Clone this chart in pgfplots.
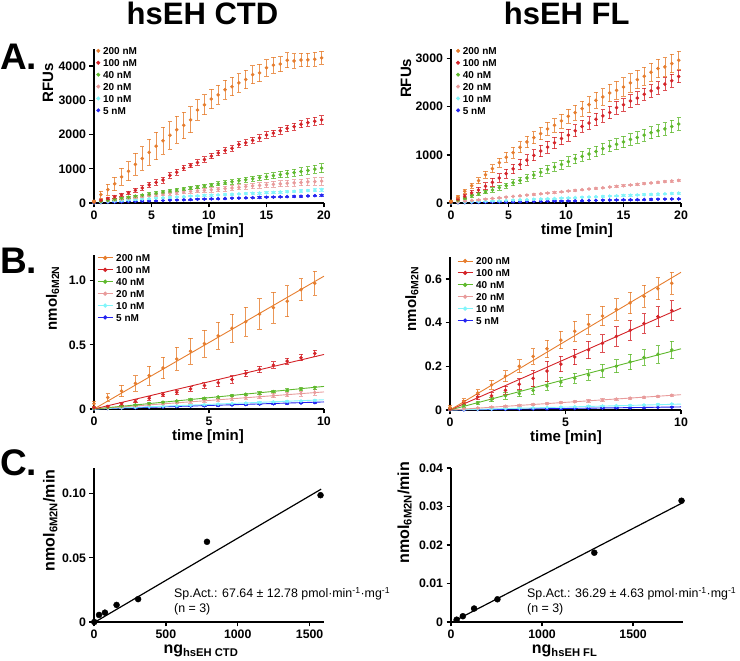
\documentclass[border=0pt]{standalone}
\usepackage{fontspec}
\setmainfont{Liberation Sans}
\usepackage{pgfplots}
\usepackage{pgfplotstable}
\pgfplotsset{compat=1.18}

\definecolor{cO}{RGB}{230,125,45}
\definecolor{cR}{RGB}{212,35,40}
\definecolor{cG}{RGB}{95,185,45}
\definecolor{cP}{RGB}{232,155,155}
\definecolor{cC}{RGB}{130,245,250}
\definecolor{cB}{RGB}{35,35,240}

\newcommand{\tickfont}{\bfseries\fontsize{12.3}{13}\selectfont}
\newcommand{\labfont}{\bfseries\fontsize{15}{16}\selectfont}
\newcommand{\labfontC}{\bfseries\fontsize{16}{17}\selectfont}
\newcommand{\legfont}{\bfseries\fontsize{10}{11}\selectfont}

% A: RFUs, CTD
\pgfplotstableread{
t    o     oe   r     re   g    ge   p    pe   c    ce  b    be
0    50    40   30    20   20   10   15   8    10   5   5    5
0.6  245   100  80    30   50   15   40   10   25   6   12   5
1.2  390   160  130   35   80   20   65   12   40   8   20   6
1.8  560   200  180   40   110  20   90   15   55   8   27   6
2.4  765   250  240   45   140  25   115  18   70   10  34   7
3.0  930   280  300   50   170  25   140  20   85   10  41   7
3.6  1127  320  370   55   200  30   165  25   100  12  48   8
4.2  1300  350  440   60   230  30   190  28   115  12  55   8
4.8  1480  380  530   70   260  35   215  32   128  14  62   9
5.4  1660  400  600   80   290  35   240  35   140  14  69   9
6.0  1820  400  670   90   320  40   260  40   152  16  76   10
6.6  1980  400  810   80   350  40   280  45   164  16  83   10
7.2  2140  400  900   80   380  45   300  48   176  18  90   11
7.8  2270  390  1020  80   410  45   320  52   188  18  96   11
8.4  2430  380  1100  70   440  50   340  55   199  20  102  12
9.0  2720  300  1180  80   470  50   355  58   210  20  108  12
9.6  2870  290  1270  80   500  55   370  60   220  22  114  13
10.2 3040  280  1370  80   530  55   385  62   229  22  120  13
10.8 3160  280  1460  80   560  60   400  65   238  24  126  14
11.4 3310  280  1540  80   590  60   420  68   247  24  132  14
12.0 3400  270  1600  80   620  65   440  70   256  26  138  15
12.6 3510  270  1710  80   650  65   460  72   265  26  144  15
13.2 3610  270  1760  90   680  70   480  75   274  28  150  16
13.8 3750  260  1830  90   710  70   500  78   283  28  156  16
14.4 3800  250  1900  90   740  80   515  80   292  30  162  17
15.0 3950  240  1990  90   770  85   530  82   301  30  168  17
15.6 4030  230  2040  90   800  90   545  85   310  32  174  18
16.2 4060  220  2110  100  830  95   560  88   320  32  180  18
16.8 4170  220  2180  100  860  100  575  90   330  34  186  19
17.4 4150  210  2230  100  890  105  590  95   340  34  192  19
18.0 4180  200  2300  100  920  110  600  100  350  36  198  20
18.6 4180  200  2350  110  950  115  615  105  362  36  205  20
19.2 4200  200  2390  120  990  120  625  110  376  38  215  21
19.8 4240  190  2430  120  1020 130  640  115  392  40  228  22
}\AL

% A: RFUs, FL
\pgfplotstableread{
t    o     oe   r     re   g     ge   p    pe  c    ce  b   be
0    35    20   20    15   10    10   10   5   5    3   2   2
0.6  125   30   80    30   60    20   24   5   11   3   5   2
1.2  243   40   140   40   100   25   38   6   17   4   7   2
1.8  360   55   210   50   150   30   52   6   23   4   10  3
2.4  464   65   270   60   190   35   66   7   29   5   12  3
3.0  589   75   350   70   230   40   80   7   35   5   15  3
3.6  714   85   430   80   270   45   94   8   41   6   17  4
4.2  838   95   520   90   320   50   108  8   47   6   20  4
4.8  950   105  610   95   360   55   122  9   53   7   22  4
5.4  1046  110  710   100  420   60   136  9   59   7   25  5
6.0  1157  115  800   105  470   65   150  10  65   8   27  5
6.6  1268  120  890   110  520   70   164  10  71   8   30  5
7.2  1358  125  990   115  580   75   178  11  77   9   32  6
7.8  1441  130  1080  115  640   80   192  11  83   9   35  6
8.4  1538  135  1160  120  700   85   206  12  89   10  37  6
9.0  1615  140  1250  120  750   90   220  12  95   10  40  7
9.6  1705  145  1340  125  800   95   234  13  101  11  42  7
10.2 1802  150  1410  125  860   100  248  13  107  11  45  7
10.8 1878  155  1500  125  920   100  262  14  113  12  47  8
11.4 1961  160  1590  125  970   105  276  14  119  12  50  8
12.0 2044  165  1660  130  1020  105  290  15  125  13  52  8
12.6 2134  170  1740  130  1070  110  304  15  131  13  55  9
13.2 2204  175  1810  130  1130  110  318  16  137  14  57  9
13.8 2287  180  1880  130  1180  115  332  16  143  14  60  9
14.4 2342  185  1980  130  1220  115  346  17  149  15  62  10
15.0 2412  190  2040  130  1270  120  360  17  155  15  65  10
15.6 2495  190  2120  130  1320  120  374  18  161  16  67  10
16.2 2564  190  2180  130  1360  120  388  18  167  16  70  11
16.8 2633  190  2260  130  1410  125  402  19  173  17  72  11
17.4 2717  190  2330  130  1460  125  416  19  179  17  75  11
18.0 2793  190  2390  130  1500  125  430  20  185  18  77  12
18.6 2827  190  2470  130  1540  130  444  20  191  18  80  12
19.2 2897  190  2540  130  1590  130  458  21  197  19  82  12
19.8 2966  190  2630  130  1640  130  470  21  205  19  85  13
}\AR

% B: nmol 6M2N, CTD
\pgfplotstableread{
t    o     oe    r     re    g     ge    p     pe    c     ce    b     be
0    0.040 0.020 0.010 0.008 0.005 0.004 0.004 0.003 0.002 0.002 0.002 0.002
0.6  0.090 0.030 0.020 0.008 0.012 0.004 0.009 0.004 0.005 0.002 0.004 0.002
1.2  0.140 0.045 0.040 0.010 0.022 0.005 0.017 0.005 0.009 0.002 0.007 0.002
1.8  0.200 0.060 0.060 0.012 0.032 0.005 0.025 0.006 0.013 0.003 0.010 0.002
2.4  0.260 0.075 0.084 0.014 0.042 0.006 0.033 0.007 0.017 0.003 0.013 0.003
3.0  0.320 0.085 0.112 0.016 0.052 0.006 0.041 0.008 0.021 0.003 0.016 0.003
3.6  0.390 0.090 0.130 0.018 0.062 0.007 0.049 0.009 0.025 0.004 0.019 0.003
4.2  0.450 0.100 0.157 0.020 0.073 0.007 0.057 0.010 0.029 0.004 0.022 0.003
4.8  0.510 0.105 0.183 0.022 0.083 0.008 0.065 0.011 0.034 0.004 0.025 0.004
5.4  0.570 0.105 0.204 0.030 0.094 0.008 0.073 0.012 0.038 0.005 0.028 0.004
6.0  0.630 0.110 0.230 0.030 0.104 0.009 0.081 0.014 0.042 0.005 0.032 0.004
6.6  0.680 0.115 0.277 0.025 0.115 0.009 0.089 0.015 0.046 0.005 0.035 0.004
7.2  0.740 0.120 0.308 0.025 0.125 0.010 0.097 0.016 0.050 0.006 0.038 0.005
7.8  0.790 0.120 0.342 0.025 0.136 0.010 0.105 0.017 0.055 0.006 0.041 0.005
8.4  0.840 0.120 0.373 0.025 0.146 0.011 0.113 0.018 0.059 0.006 0.044 0.005
9.0  0.930 0.085 0.400 0.025 0.156 0.011 0.121 0.019 0.063 0.007 0.047 0.005
9.6  0.980 0.095 0.433 0.025 0.167 0.012 0.129 0.020 0.067 0.007 0.050 0.005
}\BL

% B: nmol 6M2N, FL
\pgfplotstableread{
t    o     oe    r     re    g     ge    p     pe    c     ce    b     be
0    0.012 0.008 0.005 0.005 0.005 0.004 0.002 0.002 0.001 0.001 0.001 0.001
0.6  0.040 0.012 0.035 0.010 0.020 0.006 0.005 0.002 0.002 0.001 0.001 0.001
1.2  0.078 0.015 0.060 0.012 0.032 0.008 0.009 0.002 0.004 0.001 0.002 0.001
1.8  0.115 0.020 0.065 0.015 0.048 0.010 0.013 0.002 0.005 0.001 0.003 0.001
2.4  0.155 0.025 0.090 0.020 0.065 0.015 0.017 0.003 0.007 0.001 0.003 0.001
3.0  0.200 0.030 0.118 0.025 0.075 0.015 0.021 0.003 0.009 0.001 0.004 0.001
3.6  0.245 0.035 0.145 0.035 0.090 0.018 0.025 0.003 0.010 0.002 0.005 0.001
4.2  0.280 0.040 0.178 0.045 0.110 0.020 0.029 0.004 0.012 0.002 0.006 0.001
4.8  0.320 0.040 0.210 0.035 0.128 0.020 0.034 0.004 0.013 0.002 0.006 0.001
5.4  0.360 0.045 0.243 0.035 0.145 0.022 0.038 0.004 0.015 0.002 0.007 0.001
6.0  0.392 0.045 0.275 0.040 0.160 0.025 0.042 0.005 0.017 0.002 0.008 0.001
6.6  0.430 0.045 0.305 0.040 0.180 0.030 0.046 0.005 0.018 0.002 0.009 0.001
7.2  0.460 0.050 0.337 0.045 0.200 0.030 0.050 0.005 0.020 0.003 0.010 0.002
7.8  0.490 0.050 0.365 0.045 0.220 0.035 0.054 0.005 0.021 0.003 0.010 0.002
8.4  0.520 0.050 0.396 0.045 0.240 0.035 0.058 0.006 0.023 0.003 0.011 0.002
9.0  0.555 0.050 0.427 0.045 0.255 0.040 0.062 0.006 0.025 0.003 0.012 0.002
9.6  0.580 0.050 0.455 0.045 0.275 0.040 0.067 0.006 0.027 0.003 0.013 0.002
}\BR

\pgfplotsset{
  gp/.style={
    scale only axis, anchor=south west, clip=false,
    axis lines*=left, scaled ticks=false,
    axis line style={line width=1.6pt},
    every tick/.style={black, line width=1.3pt},
    tick align=outside, major tick length=4.5pt,
    ticklabel style={font=\tickfont},
    legend cell align=left,
    legend style={draw=none, fill=none, inner sep=0pt, font=\legfont,
      row sep=2.4pt, column sep=2pt,
      nodes={inner sep=1pt, text height=7.5pt, text depth=0pt}},
  },
  ylab/.style 2 args={every axis y label/.style={at={(axis description cs:#1,#2)},
    rotate=90, anchor=center, font=\labfont}},
  xlab/.style 2 args={every axis x label/.style={at={(axis description cs:#1,#2)},
    anchor=center, font=\labfont}},
  ylabC/.style 2 args={every axis y label/.style={at={(axis description cs:#1,#2)},
    rotate=90, anchor=center, font=\labfontC}},
  xlabC/.style 2 args={every axis x label/.style={at={(axis description cs:#1,#2)},
    anchor=center, font=\labfontC}},
  pts/.style={only marks, mark=*, mark size=1.6pt, forget plot,
    error bars/y dir=both, error bars/y explicit,
    error bars/error bar style={line width=0.8pt, opacity=0.8},
    error bars/error mark options={rotate=90, mark size=2.2pt, line width=0.8pt}},
  dotleg/.style={legend image code/.code={%
    \draw[mark repeat=2, mark phase=2, ##1] plot coordinates {(0pt,0pt) (4pt,0pt) (8pt,0pt)};}},
  lineleg/.style={legend image code/.code={%
    \draw[mark repeat=2, mark phase=2, ##1] plot coordinates {(0pt,0pt) (7.5pt,0pt) (15pt,0pt)};}},
  fit/.style={line width=0.9pt, forget plot},
}

\begin{document}
\begin{tikzpicture}[x=1pt,y=1pt]
\path[use as bounding box] (0,0) rectangle (740,661);

\node[font=\bfseries\fontsize{31}{31}\selectfont, anchor=base] at (202.5,636) {hsEH CTD};
\node[font=\bfseries\fontsize{31}{31}\selectfont, anchor=base] at (566.7,636) {hsEH FL};
\node[font=\bfseries\fontsize{37}{37}\selectfont, anchor=base west, inner sep=0pt] at (0,591) {A.};
\node[font=\bfseries\fontsize{37}{37}\selectfont, anchor=base west, inner sep=0pt] at (0,387) {B.};
\node[font=\bfseries\fontsize{37}{37}\selectfont, anchor=base west, inner sep=0pt] at (0,185) {C.};

% ---- A, CTD
\begin{axis}[gp, at={(94pt,458pt)}, width=230pt, height=154pt,
  xmin=0, xmax=20, ymin=0, ymax=4500,
  xtick={0,5,10,15,20}, xticklabels={0,5,10,15,20},
  ytick={0,1000,2000,3000,4000}, yticklabels={0,1000,2000,3000,4000},
  xlabel={time [min]}, ylabel={RFUs},
  xlab={0.496}{-0.18}, ylab={-0.2}{0.78},
  legend style={at={(axis description cs:0.01,1.02)}, anchor=north west},
  dotleg]
\addplot[cB, pts] table[x=t, y=b, y error=be] {\AL};
\addplot[cC, pts] table[x=t, y=c, y error=ce] {\AL};
\addplot[cP, pts] table[x=t, y=p, y error=pe] {\AL};
\addplot[cG, pts] table[x=t, y=g, y error=ge] {\AL};
\addplot[cR, pts] table[x=t, y=r, y error=re] {\AL};
\addplot[cO, pts] table[x=t, y=o, y error=oe] {\AL};
\addlegendimage{cO, only marks, mark=*, mark size=1.8pt}\addlegendentry{200 nM}
\addlegendimage{cR, only marks, mark=*, mark size=1.8pt}\addlegendentry{100 nM}
\addlegendimage{cG, only marks, mark=*, mark size=1.8pt}\addlegendentry{40 nM}
\addlegendimage{cP, only marks, mark=*, mark size=1.8pt}\addlegendentry{20 nM}
\addlegendimage{cC, only marks, mark=*, mark size=1.8pt}\addlegendentry{10 nM}
\addlegendimage{cB, only marks, mark=*, mark size=1.8pt}\addlegendentry{5 nM}
\end{axis}

% ---- A, FL
\begin{axis}[gp, at={(451pt,458pt)}, width=230pt, height=154pt,
  xmin=0, xmax=20, ymin=0, ymax=3200,
  xtick={0,5,10,15,20}, xticklabels={0,5,10,15,20},
  ytick={0,1000,2000,3000}, yticklabels={0,1000,2000,3000},
  xlabel={time [min]}, ylabel={RFUs},
  xlab={0.548}{-0.18}, ylab={-0.196}{0.81},
  legend style={at={(axis description cs:0.022,1.02)}, anchor=north west},
  dotleg]
\addplot[cB, pts] table[x=t, y=b, y error=be] {\AR};
\addplot[cC, pts] table[x=t, y=c, y error=ce] {\AR};
\addplot[cP, pts] table[x=t, y=p, y error=pe] {\AR};
\addplot[cG, pts] table[x=t, y=g, y error=ge] {\AR};
\addplot[cR, pts] table[x=t, y=r, y error=re] {\AR};
\addplot[cO, pts] table[x=t, y=o, y error=oe] {\AR};
\addlegendimage{cO, only marks, mark=*, mark size=1.8pt}\addlegendentry{200 nM}
\addlegendimage{cR, only marks, mark=*, mark size=1.8pt}\addlegendentry{100 nM}
\addlegendimage{cG, only marks, mark=*, mark size=1.8pt}\addlegendentry{40 nM}
\addlegendimage{cP, only marks, mark=*, mark size=1.8pt}\addlegendentry{20 nM}
\addlegendimage{cC, only marks, mark=*, mark size=1.8pt}\addlegendentry{10 nM}
\addlegendimage{cB, only marks, mark=*, mark size=1.8pt}\addlegendentry{5 nM}
\end{axis}

% ---- B, CTD
\begin{axis}[gp, at={(94pt,252pt)}, width=230pt, height=154pt,
  xmin=0, xmax=10, ymin=0, ymax=1.2,
  xtick={0,5,10}, xticklabels={0,5,10},
  ytick={0,0.5,1}, yticklabels={0,0.5,1.0},
  xlabel={time [min]}, ylabel={nmol\textsubscript{6M2N}},
  xlab={0.496}{-0.18}, ylab={-0.18}{0.72},
  legend style={at={(axis description cs:0.013,1.013)}, anchor=north west},
  lineleg]
\addplot[cB, fit] coordinates {(0,0) (10,0.055)};
\addplot[cC, fit] coordinates {(0,0) (10,0.072)};
\addplot[cP, fit] coordinates {(0,0) (10,0.133)};
\addplot[cG, fit] coordinates {(0,0) (10,0.176)};
\addplot[cR, fit] coordinates {(0,0) (10,0.425)};
\addplot[cO, fit] coordinates {(0,0) (10,1.035)};
\addplot[cB, pts] table[x=t, y=b, y error=be] {\BL};
\addplot[cC, pts] table[x=t, y=c, y error=ce] {\BL};
\addplot[cP, pts] table[x=t, y=p, y error=pe] {\BL};
\addplot[cG, pts] table[x=t, y=g, y error=ge] {\BL};
\addplot[cR, pts] table[x=t, y=r, y error=re] {\BL};
\addplot[cO, pts] table[x=t, y=o, y error=oe] {\BL};
\addlegendimage{cO, mark=*, mark size=1.6pt, line width=1pt}\addlegendentry{200 nM}
\addlegendimage{cR, mark=*, mark size=1.6pt, line width=1pt}\addlegendentry{100 nM}
\addlegendimage{cG, mark=*, mark size=1.6pt, line width=1pt}\addlegendentry{40 nM}
\addlegendimage{cP, mark=*, mark size=1.6pt, line width=1pt}\addlegendentry{20 nM}
\addlegendimage{cC, mark=*, mark size=1.6pt, line width=1pt}\addlegendentry{10 nM}
\addlegendimage{cB, mark=*, mark size=1.6pt, line width=1pt}\addlegendentry{5 nM}
\end{axis}

% ---- B, FL
\begin{axis}[gp, at={(450pt,251pt)}, width=231pt, height=153pt,
  xmin=0, xmax=10, ymin=0, ymax=0.7,
  xtick={0,5,10}, xticklabels={0,5,10},
  ytick={0,0.2,0.4,0.6}, yticklabels={0,0.2,0.4,0.6},
  xlabel={time [min]}, ylabel={nmol\textsubscript{6M2N}},
  xlab={0.502}{-0.18}, ylab={-0.165}{0.725},
  legend style={at={(axis description cs:0.03,1.006)}, anchor=north west},
  lineleg]
\addplot[cB, fit] coordinates {(0,0) (10,0.014)};
\addplot[cC, fit] coordinates {(0,0) (10,0.027)};
\addplot[cP, fit] coordinates {(0,0) (10,0.070)};
\addplot[cG, fit] coordinates {(0,0) (10,0.280)};
\addplot[cR, fit] coordinates {(0,0) (10,0.466)};
\addplot[cO, fit] coordinates {(0,0) (10,0.630)};
\addplot[cB, pts] table[x=t, y=b, y error=be] {\BR};
\addplot[cC, pts] table[x=t, y=c, y error=ce] {\BR};
\addplot[cP, pts] table[x=t, y=p, y error=pe] {\BR};
\addplot[cG, pts] table[x=t, y=g, y error=ge] {\BR};
\addplot[cR, pts] table[x=t, y=r, y error=re] {\BR};
\addplot[cO, pts] table[x=t, y=o, y error=oe] {\BR};
\addlegendimage{cO, mark=*, mark size=1.6pt, line width=1pt}\addlegendentry{200 nM}
\addlegendimage{cR, mark=*, mark size=1.6pt, line width=1pt}\addlegendentry{100 nM}
\addlegendimage{cG, mark=*, mark size=1.6pt, line width=1pt}\addlegendentry{40 nM}
\addlegendimage{cP, mark=*, mark size=1.6pt, line width=1pt}\addlegendentry{20 nM}
\addlegendimage{cC, mark=*, mark size=1.6pt, line width=1pt}\addlegendentry{10 nM}
\addlegendimage{cB, mark=*, mark size=1.6pt, line width=1pt}\addlegendentry{5 nM}
\end{axis}

% ---- C, CTD
\begin{axis}[gp, at={(94pt,39pt)}, width=230pt, height=154pt,
  xmin=0, xmax=1600, ymin=0, ymax=0.12,
  xtick={0,500,1000,1500}, xticklabels={0,500,1000,1500},
  ytick={0,0.05,0.1}, yticklabels={0,0.05,0.10},
  xlabel={ng\textsubscript{hsEH CTD}}, ylabel={nmol\textsubscript{6M2N}/min},
  xlabC={0.465}{-0.19}, ylabC={-0.19}{0.66}]
\addplot[black, line width=1.2pt] coordinates {(0,-0.0005) (1580,0.1035)};
\addplot[black, only marks, mark=*, mark size=3pt] coordinates {
  (2,0.0) (35,0.0055) (76,0.0073) (157,0.0133) (307,0.0178) (786,0.0625) (1576,0.0988)};
\end{axis}

% ---- C, FL
\begin{axis}[gp, at={(451pt,39pt)}, width=232pt, height=154pt,
  xmin=500, xmax=1774, ymin=0, ymax=0.04,
  xtick={500,1000,1500}, xticklabels={0,1000,1500},
  ytick={0,0.01,0.02,0.03,0.04}, yticklabels={0,0.01,0.02,0.03,0.04},
  xlabel={ng\textsubscript{hsEH FL}}, ylabel={nmol\textsubscript{6M2N}/min},
  xlabC={0.49}{-0.19}, ylabC={-0.2}{0.71}]
\addplot[black, line width=1.2pt] coordinates {(507,0.0) (1769,0.0309)};
\addplot[black, only marks, mark=*, mark size=3pt] coordinates {
  (531,0.0006) (565,0.0015) (627,0.0035) (755,0.0059) (1287,0.0180) (1766,0.0315)};
\end{axis}

\node[anchor=base west, inner sep=0pt, font=\fontsize{12.4}{15}\selectfont] at (174,63.5)
  {Sp.Act.: 67.64 ± 12.78 pmol·min\textsuperscript{-1}·mg\textsuperscript{-1}};
\node[anchor=base west, inner sep=0pt, font=\fontsize{12.4}{15}\selectfont] at (174,48.5) {(n = 3)};
\node[anchor=base west, inner sep=0pt, font=\fontsize{12.4}{15}\selectfont] at (527,63.5)
  {Sp.Act.: 36.29 ± 4.63 pmol·min\textsuperscript{-1}·mg\textsuperscript{-1}};
\node[anchor=base west, inner sep=0pt, font=\fontsize{12.4}{15}\selectfont] at (527,48.5) {(n = 3)};
\end{tikzpicture}
\end{document}
